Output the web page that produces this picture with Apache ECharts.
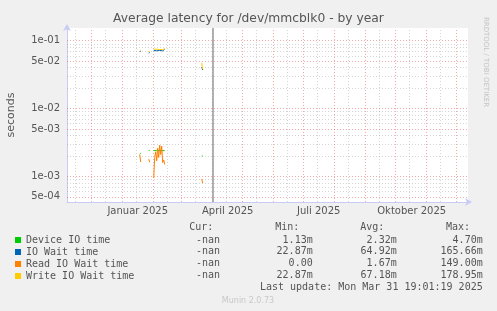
<!DOCTYPE html>
<html><head><meta charset="utf-8">
<script src="https://cdn.jsdelivr.net/npm/echarts@6/dist/echarts.min.js"></script>
<style>html,body{margin:0;padding:0;background:#f0f0f0}#c{width:497px;height:311px}</style>
</head><body><div id="c"></div>
<script>
// ---- data ----
const dates = ['2025-01-18','2025-01-19','2025-01-20','2025-01-27','2025-01-28','2025-01-29',
  '2025-02-01','2025-02-02','2025-02-03','2025-02-04','2025-02-05','2025-02-06','2025-02-07',
  '2025-02-08','2025-02-09','2025-02-10','2025-02-11','2025-02-12','2025-02-13',
  '2025-03-21','2025-03-22'];
const deviceIO = [0.00215,0.0022,null,0.0024,0.0024,null,
  0.0024,0.00245,0.0024,0.0024,0.00235,0.0024,0.0024,0.00245,0.0024,0.0024,0.00235,0.0024,null,
  0.0020,0.0020];
const ioWait = [0.069,0.070,null,0.066,0.067,null,
  0.072,0.074,0.073,0.071,0.075,0.073,0.072,0.075,0.074,0.071,0.074,0.075,null,
  0.041,0.037];
const readIOWait = [0.0021,0.00163,null,0.0018,0.00162,null,
  0.00095,0.0019,0.0023,0.0017,0.0026,0.0019,0.0029,0.0021,0.0028,0.0016,0.00175,0.0015,null,
  0.00092,0.0008];
const writeIOWait = [0.0725,0.072,null,0.070,0.069,null,
  0.075,0.076,0.074,0.075,0.076,0.075,0.074,0.076,0.075,0.074,0.075,0.076,null,
  0.047,0.038];
const seriesNames = ['Device IO time','IO Wait time','Read IO Wait time','Write IO Wait time'];
const seriesColors = ['#00cc00','#0066b3','#ff8000','#ffcc00'];
const curValues = ['-nan','-nan','-nan','-nan'];
const minValues = ['1.13m','22.87m','0.00','22.87m'];
const avgValues = ['2.32m','64.92m','1.67m','67.18m'];
const maxValues = ['4.70m','165.66m','149.00m','178.95m'];
const yTickValues = [0.1,0.05,0.01,0.005,0.001,0.0005];
const yTickLabels = ['1e-01','5e-02','1e-02','5e-03','1e-03','5e-04'];
const xLabelDates = ['2025-01-16','2025-04-16','2025-07-16','2025-10-17'];
const xTickLabels = ['Januar 2025','April 2025','Juli 2025','Oktober 2025'];
const monthStarts = ['2024-12-01','2025-01-01','2025-02-01','2025-03-01','2025-04-01','2025-05-01',
  '2025-06-01','2025-07-01','2025-08-01','2025-09-01','2025-10-01','2025-11-01','2025-12-01'];
const midMonths = ['2024-11-15','2024-12-15','2025-01-15','2025-02-15','2025-03-15','2025-04-15',
  '2025-05-15','2025-06-15','2025-07-15','2025-08-15','2025-09-15','2025-10-15','2025-11-15'];
const nowTime = '2025-03-31 19:01';
const xMin = '2024-11-06 07:00', xMax = '2025-12-12 07:00';
const yMin = 4.2e-4, yMax = 0.154;

// ---- helpers ----
function ts(s){ const p = s.split(' '); return +new Date(p[0] + 'T' + (p[1] || '00:00') + ':00'); }
const FONT = 'DejaVu Sans', MONO = 'DejaVu Sans Mono';
const MAJOR = 'rgba(235,60,60,0.45)', MINOR = 'rgba(150,150,150,0.4)';

const yMinor = [];
[-4,-3,-2,-1].forEach(e => [2,3,4,6,7,8,9].forEach(k => {
  const v = k * Math.pow(10, e); if (v > yMin && v < yMax) yMinor.push(v);
}));

const gridLines = [];
midMonths.forEach(d => gridLines.push({xAxis: ts(d), lineStyle:{color:MINOR}}));
yMinor.forEach(v => gridLines.push({yAxis: v, lineStyle:{color:MINOR}}));
monthStarts.forEach(d => gridLines.push({xAxis: ts(d), lineStyle:{color:MAJOR}}));
yTickValues.forEach((v,i) => gridLines.push({yAxis: v, lineStyle:{color:MAJOR},
  label:{show:true, position:'start', distance:7, formatter: yTickLabels[i],
    fontFamily:FONT, fontSize:10, color:'#555'}}));

const xLabelLines = xLabelDates.map((d,i) => ({xAxis: ts(d),
  label:{show:true, position:'start', distance:4, formatter: xTickLabels[i],
    fontFamily:FONT, fontSize:10, color:'#555'}}));

const vals = [deviceIO, ioWait, readIOWait, writeIOWait];
const dataSeries = seriesNames.map((n,i) => ({
  name: n, type:'line', color: seriesColors[i], z: 4,
  data: dates.map((d,j) => [ts(d), vals[i][j]]),
  showSymbol:false, connectNulls:false, animation:false,
  lineStyle:{width:1, color: seriesColors[i]}
}));

const rowY = [240, 251.9, 263.8, 275.7];
const graphics = [
  {type:'text', x:11, y:115, rotation:Math.PI/2, style:{text:'seconds', font:'11px '+FONT, fill:'#555', align:'center', verticalAlign:'middle'}},
  {type:'text', x:486, y:62, rotation:-Math.PI/2, style:{text:'RRDTOOL / TOBI OETIKER', font:'7px '+FONT, fill:'#c4c4c4', align:'center', verticalAlign:'middle'}},
  {type:'text', x:213.3, y:227.3, style:{text:'Cur:', font:'10px '+MONO, fill:'#555', align:'right', verticalAlign:'middle'}},
  {type:'text', x:299.3, y:227.3, style:{text:'Min:', font:'10px '+MONO, fill:'#555', align:'right', verticalAlign:'middle'}},
  {type:'text', x:384.3, y:227.3, style:{text:'Avg:', font:'10px '+MONO, fill:'#555', align:'right', verticalAlign:'middle'}},
  {type:'text', x:470, y:227.3, style:{text:'Max:', font:'10px '+MONO, fill:'#555', align:'right', verticalAlign:'middle'}},
  {type:'text', x:482.7, y:287.7, style:{text:'Last update: Mon Mar 31 19:01:19 2025', font:'10px '+MONO, fill:'#555', align:'right', verticalAlign:'middle'}},
  {type:'text', x:248, y:300.5, style:{text:'Munin 2.0.73', font:'8px '+FONT, fill:'#c8c8c8', align:'center', verticalAlign:'middle'}}
];
const cols = [[curValues,220],[minValues,312.7],[avgValues,396.7],[maxValues,482.7]];
cols.forEach(([arr,x]) => arr.forEach((t,i) => graphics.push({type:'text', x:x, y:rowY[i],
  style:{text:t, font:'10px '+MONO, fill:'#555', align:'right', verticalAlign:'middle'}})));

const chart = echarts.init(document.getElementById('c'), null, {renderer:'canvas'});
chart.setOption({
  animation:false,
  backgroundColor:'#f0f0f0',
  title:{text:'Average latency for /dev/mmcblk0 - by year', left:'center', top:13, padding:0,
    textStyle:{fontFamily:FONT, fontSize:12.3, fontWeight:'normal', color:'#555'}},
  grid:{left:67, right:29, top:28, bottom:109, show:true, backgroundColor:'#ffffff', borderWidth:0},
  xAxis:{type:'time', min: ts(xMin), max: ts(xMax),
    axisLine:{show:true, lineStyle:{color:'#c8ccf4', width:1}, symbol:['none','arrow'], symbolSize:[6,7], symbolOffset:[0,4]},
    axisTick:{show:false}, axisLabel:{show:false}, splitLine:{show:false}},
  yAxis:{type:'log', logBase:10, min:yMin, max:yMax,
    axisLine:{show:true, onZero:false, lineStyle:{color:'#c8ccf4', width:1}, symbol:['none','arrow'], symbolSize:[6,7], symbolOffset:[0,4]},
    axisTick:{show:false}, axisLabel:{show:false}, splitLine:{show:false}},
  legend:{data:seriesNames, orient:'vertical', left:15, top:234, padding:0, itemGap:0,
    itemWidth:6, itemHeight:6, icon:'rect', selectedMode:false,
    textStyle:{fontFamily:MONO, fontSize:10, color:'#555', lineHeight:12}},
  series:[
    {type:'line', data:[], z:1, silent:true,
      markLine:{z:1, silent:true, precision:8, symbol:['none','none'], animation:false,
        lineStyle:{type:[1,2], width:1}, label:{show:false}, data:gridLines}},
    {type:'line', data:[], z:1, silent:true,
      markLine:{z:1, silent:true, precision:8, symbol:['none','none'], animation:false,
        lineStyle:{color:'rgba(0,0,0,0)', width:0}, data:xLabelLines}},
    {type:'line', data:[], z:3, silent:true,
      markLine:{z:3, silent:true, precision:8, symbol:['none','none'], animation:false,
        lineStyle:{type:'solid', width:1.5, color:'#999'}, label:{show:false},
        data:[{xAxis: ts(nowTime)}]}}
  ].concat(dataSeries),
  graphic: graphics
});
</script></body></html>
